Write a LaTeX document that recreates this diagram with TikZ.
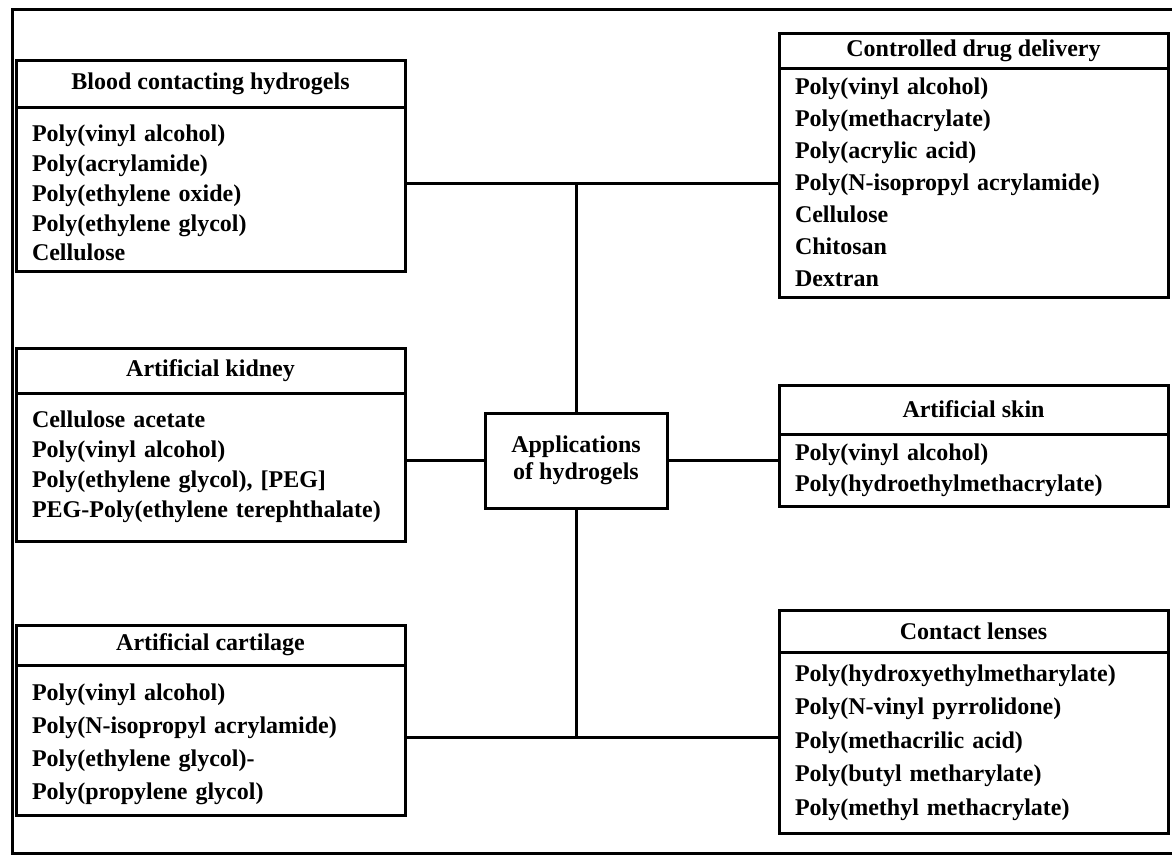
\documentclass[tikz,border=0pt]{standalone}
\usepackage{fontspec}
\setmainfont{Liberation Serif}
\usetikzlibrary{positioning}

\newcommand{\listfont}[1]{\bfseries\fontsize{24}{#1}\selectfont}
\newcommand{\toppad}{\rule{0pt}{25pt}}

\begin{document}
\begin{tikzpicture}[x=1pt, y=-1pt,
  head/.style = {rectangle, draw=black, line width=3pt, outer sep=0pt, minimum width=389pt, minimum height=#1, font=\listfont{28}},
  list/.style = {rectangle, draw=black, line width=3pt, outer sep=0pt, minimum width=389pt, text width=357pt, inner xsep=16pt, inner ysep=0pt, align=left},
  hub/.style = {rectangle, draw=black, line width=3pt, outer sep=0pt, minimum width=182pt, minimum height=95pt, align=center, font=\listfont{27}},
  link/.style = {line width=3pt}
]
\useasboundingbox (0,0) rectangle (1172,855);
\fill[white] (0,0) rectangle (1172,855);
\draw[link] (1172,9) -- (12,9) -- (12,853) -- (1172,853);

% left column
\node[head=47pt] (bloodhead) at (210.5,83.5) {Blood contacting hydrogels};
\node[list, minimum height=164pt, font=\listfont{29.7}, below=0pt of bloodhead] (bloodlist)
  {\toppad Poly(vinyl alcohol)\\Poly(acrylamide)\\Poly(ethylene oxide)\\Poly(ethylene glycol)\\Cellulose};

\node[head=45pt] (kidneyhead) at (210.5,370.5) {Artificial kidney};
\node[list, minimum height=148pt, font=\listfont{30}, below=0pt of kidneyhead] (kidneylist)
  {Cellulose acetate\\Poly(vinyl alcohol)\\Poly(ethylene glycol), [PEG]\\PEG-Poly(ethylene terephthalate)};

\node[head=40pt] (carthead) at (210.5,645) {Artificial cartilage};
\node[list, minimum height=150pt, font=\listfont{33}, below=0pt of carthead] (cartlist)
  {\toppad Poly(vinyl alcohol)\\Poly(N-isopropyl acrylamide)\\Poly(ethylene glycol)-\\Poly(propylene glycol)};

% right column
\node[head=35pt] (drughead) at (973.5,50.5) {Controlled drug delivery};
\node[list, minimum height=229pt, font=\listfont{32}, below=0pt of drughead] (druglist)
  {Poly(vinyl alcohol)\\Poly(methacrylate)\\Poly(acrylic acid)\\Poly(N-isopropyl acrylamide)\\Cellulose\\Chitosan\\Dextran};

\node[head=49pt] (skinhead) at (973.5,409.5) {Artificial skin};
\node[list, minimum height=72pt, font=\listfont{31}, below=0pt of skinhead] (skinlist)
  {Poly(vinyl alcohol)\\Poly(hydroethylmethacrylate)};

\node[head=42pt] (lenshead) at (973.5,631) {Contact lenses};
\node[list, minimum height=181pt, font=\listfont{33.5}, below=0pt of lenshead] (lenslist)
  {Poly(hydroxyethylmetharylate)\\Poly(N-vinyl pyrrolidone)\\Poly(methacrilic acid)\\Poly(butyl metharylate)\\Poly(methyl methacrylate)};

% centre
\node[hub] (apps) at (576,460.5) {Applications\\of hydrogels};
\coordinate (jtop) at (576,183);
\coordinate (jbot) at (576,737);

% connectors
\draw[link] (bloodlist.east |- jtop) -- (druglist.west |- jtop);
\draw[link] (jtop) -- (apps.north);
\draw[link] (apps.south) -- (jbot);
\draw[link] (cartlist.east |- jbot) -- (lenslist.west |- jbot);
\draw[link] (kidneylist.east |- apps.west) -- (apps.west);
\draw[link] (apps.east) -- (skinlist.west |- apps.east);
\end{tikzpicture}
\end{document}
